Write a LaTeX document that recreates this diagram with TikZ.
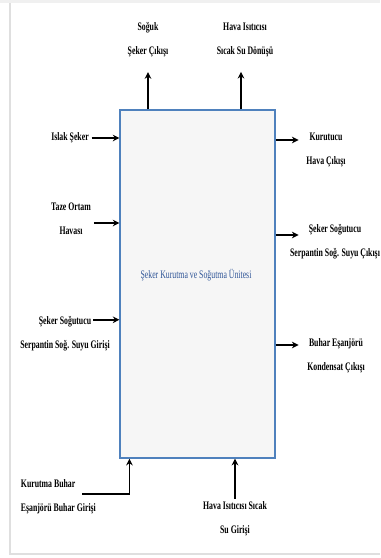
\documentclass[tikz,border=0pt]{standalone}
\usepackage{fontspec}
\setmainfont{Liberation Serif}[FakeStretch=0.68]
\usetikzlibrary{arrows.meta}
\usetikzlibrary{calc}
\definecolor{unitblue}{RGB}{79,129,189}
\definecolor{unittext}{RGB}{47,85,151}

\begin{document}
\begin{tikzpicture}[
                x=0.75pt, y=-0.75pt,
                every node/.style={font=\fontsize{8.6}{18}\selectfont\bfseries},
                unitbox/.style={rectangle, draw=unitblue, fill=gray!7, line width=1.1pt,
                    minimum width=116pt, minimum height=261pt, inner sep=0pt},
                stream/.style={align=center, inner sep=2pt},
                flow/.style={-{Stealth[length=5pt, width=5pt]}, line width=1.4pt},
            ]
            \useasboundingbox (0,0) rectangle (380,558);
            
            % Frame
            \fill[gray!12] (0,0) rectangle (380,3);
            \draw[gray!25, line width=0.8pt] (10,3) -- (10,554) -- (380,554);
            
            % Nodes
            \node[unitbox] (unit) at (197.5,284) {};
            \node[font=\fontsize{8.6}{10}\selectfont, text=unittext] (unitname) at (196,275) {Şeker Kurutma ve Soğutma Ünitesi};
            
            \node[stream] (soguk) at (148,40) {Soğuk\\Şeker Çıkışı};
            \node[stream] (havadonus) at (245,40) {Hava Isıtıcısı\\Sıcak Su Dönüşü};
            
            \node[stream] (islak) at (70,138) {Islak Şeker};
            \node[stream] (taze) at (71,219) {Taze Ortam\\Havası};
            \node[stream] (sogin) at (65,334) {Şeker Soğutucu\\Serpantin Soğ. Suyu Girişi};
            
            \node[stream] (kurutucu) at (326,150) {Kurutucu\\Hava Çıkışı};
            \node[stream] (sogout) at (335,242) {Şeker Soğutucu\\Serpantin Soğ. Suyu Çıkışı};
            \node[stream] (kondensat) at (336,356) {Buhar Eşanjörü\\Kondensat Çıkışı};
            
            \node[stream, align=left, anchor=west] (buharin) at (18,497) {Kurutma Buhar\\Eşanjörü Buhar Girişi};
            \node[stream] (sicakin) at (235,519) {Hava Isıtıcısı Sıcak\\Su Girişi};
            
            % Arrows
            \draw[flow, shorten >=9pt] (unit.north -| soguk) -- (soguk.south);
            \draw[flow, shorten >=9pt] (unit.north -| 241,0) -- (havadonus.south -| 241,0);
            
            \draw[flow] (islak.east) -- (islak.east -| unit.west);
            \draw[flow] ($(taze.east)+(0,4)$) coordinate (tz) -- (tz -| unit.west);
            \draw[flow] ($(sogin.north)+(28,6)$) coordinate (sg) -- (sg -| unit.west);
            
            \draw[flow] ($(unit.east |- kurutucu.center)+(0,-10)$) -- ++(23,0);
            \draw[flow] ($(unit.east |- sogout.center)+(0,-7)$) -- ++(23,0);
            \draw[flow] ($(unit.east |- kondensat.center)+(0,-11)$) -- ++(23,0);
            
            \draw[flow] ($(buharin.west)+(64,-3)$) -| ($(unit.south west)+(10,0)$);
            \draw[flow] (sicakin.north) -- (sicakin.north |- unit.south);
            
            \end{tikzpicture}
\end{document}
